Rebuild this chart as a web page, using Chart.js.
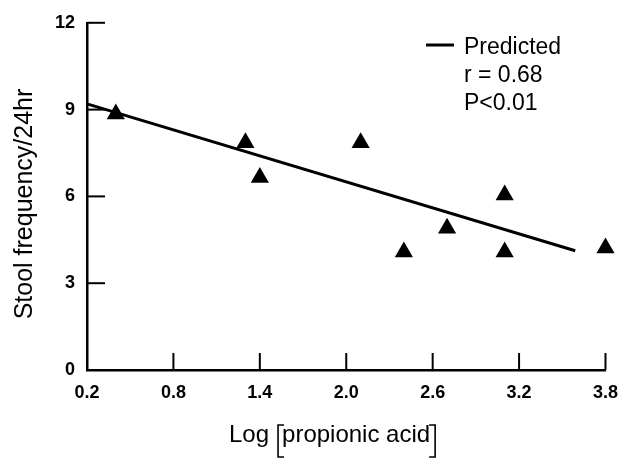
<!DOCTYPE html>
<html><head><meta charset="utf-8">
<script src="https://cdn.jsdelivr.net/npm/chart.js@4.4.1/dist/chart.umd.min.js"></script>
<style>html,body{margin:0;background:#fff}</style>
</head><body>
<canvas id="c" width="630" height="458"></canvas>
<script>
/* Stool frequency vs log propionic acid – scatter with fitted line */
const logPropionic = [0.4, 1.3, 1.4, 2.1, 2.4, 2.7, 3.1, 3.1, 3.8];
const stoolFreq    = [8.85, 7.85, 6.65, 7.85, 4.08, 4.9, 6.05, 4.08, 4.22];
const fitX = [0.2, 3.59];
const fitY = [9.2, 4.12];
const xTicks = [0.2, 0.8, 1.4, 2.0, 2.6, 3.2, 3.8];
const yTicks = [0, 3, 6, 9, 12];
const legendLines = ['Predicted', 'r = 0.68', 'P<0.01'];
const yTitle = 'Stool frequency/24hr';
const xTitleLead = 'Log';
const xTitleInner = 'propionic acid';

const FONT = '"Liberation Sans", Arial, Helvetica, sans-serif';
Chart.defaults.font.family = FONT;
Chart.defaults.font.size = 18;
Chart.defaults.font.weight = 'bold';
Chart.defaults.color = '#000';

const decor = {
  id: 'decor',
  afterDraw(chart){
    const c = chart.ctx, xs = chart.scales.x, ys = chart.scales.y, a = chart.chartArea;
    c.save();
    c.strokeStyle = '#000'; c.fillStyle = '#000';
    // inward tick marks
    c.lineWidth = 2;
    yTicks.forEach(v=>{
      if(v===0) return;
      const py = ys.getPixelForValue(v);
      c.beginPath(); c.moveTo(a.left, py); c.lineTo(a.left+18, py); c.stroke();
    });
    xTicks.forEach(v=>{
      if(v===xTicks[0]) return;
      const px = xs.getPixelForValue(v);
      c.beginPath(); c.moveTo(px, a.bottom); c.lineTo(px, a.bottom-17); c.stroke();
    });
    // legend
    c.lineWidth = 3;
    c.beginPath(); c.moveTo(426, 45); c.lineTo(454, 45); c.stroke();
    c.font = '23px ' + FONT;
    c.textBaseline = 'alphabetic'; c.textAlign = 'left';
    legendLines.forEach((t,i)=> c.fillText(t, 464, 54 + i*28));
    // y title
    c.save();
    c.font = '25px ' + FONT;
    c.translate(32, 204); c.rotate(-Math.PI/2);
    c.textAlign = 'center';
    c.fillText(yTitle, 0, 0);
    c.restore();
    // x title with tall brackets
    c.font = '24px ' + FONT;
    const x0 = 229, base = 442;
    c.fillText(xTitleLead, x0, base);
    const lb = x0 + c.measureText(xTitleLead).width + 9;
    const inX = lb + 4;
    c.fillText(xTitleInner, inX, base);
    const rb = inX + c.measureText(xTitleInner).width + 5;
    c.lineWidth = 1.6;
    c.beginPath();
    c.moveTo(lb+6, 425); c.lineTo(lb, 425); c.lineTo(lb, 457); c.lineTo(lb+6, 457);
    c.moveTo(rb-6, 425); c.lineTo(rb, 425); c.lineTo(rb, 457); c.lineTo(rb-6, 457);
    c.stroke();
    c.restore();
  }
};

new Chart(document.getElementById('c'), {
  type: 'scatter',
  data: {
    datasets: [
      {
        label: 'Observed',
        data: logPropionic.map((x,i)=>({x, y: stoolFreq[i]})),
        pointStyle: 'triangle',
        pointRadius: 10.5,
        pointHoverRadius: 10.5,
        backgroundColor: '#000',
        borderColor: '#000',
        borderWidth: 0,
        clip: false
      },
      {
        label: 'Predicted',
        data: fitX.map((x,i)=>({x, y: fitY[i]})),
        showLine: true,
        borderColor: '#000',
        borderWidth: 3,
        pointRadius: 0,
        clip: false
      }
    ]
  },
  options: {
    responsive: false,
    animation: false,
    layout: { padding: { top: 16, right: 19, left: 0, bottom: 0 } },
    plugins: { legend: { display: false }, tooltip: { enabled: false } },
    scales: {
      x: {
        type: 'linear', min: 0.2, max: 3.8,
        afterBuildTicks: s => { s.ticks = xTicks.map(v=>({value:v})); },
        afterFit: s => { s.height = 88; },
        grid: { drawOnChartArea: false, drawTicks: false },
        border: { color: '#000', width: 2.5 },
        ticks: { padding: 12, color: '#000',
                 callback: v => Number(v).toFixed(1), maxRotation: 0, autoSkip: false }
      },
      y: {
        type: 'linear', min: 0, max: 12,
        afterBuildTicks: s => { s.ticks = yTicks.map(v=>({value:v})); },
        afterFit: s => { s.width = 87; },
        grid: { drawOnChartArea: false, drawTicks: false },
        border: { color: '#000', width: 2.5 },
        ticks: { padding: 12, color: '#000' }
      }
    }
  },
  plugins: [decor]
});
</script>
</body></html>
